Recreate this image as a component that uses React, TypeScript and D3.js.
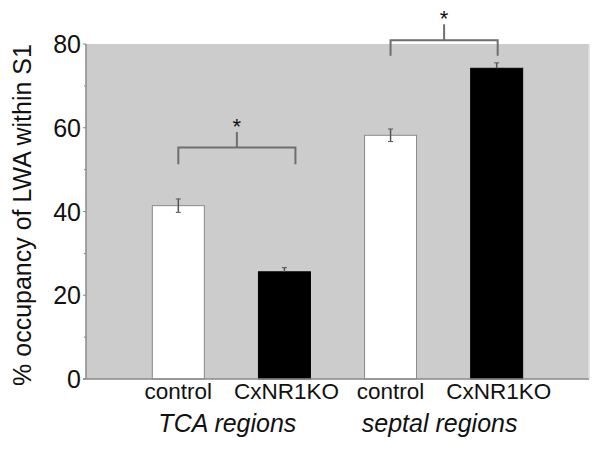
import React from "react";
import * as d3 from "d3";

const categories = ["TCA-control", "TCA-CxNR1KO", "septal-control", "septal-CxNR1KO"];
const barLabels = ["control", "CxNR1KO", "control", "CxNR1KO"];
const values = [41.4, 25.6, 58.2, 74.2];
const errors = [1.6, 1.0, 1.5, 1.3];
const fills = ["#ffffff", "#000000", "#ffffff", "#000000"];
const groupLabels = ["TCA regions", "septal regions"];
const yTicks = [0, 20, 40, 60, 80];
const yMinor = [10, 30, 50, 70];
// significance brackets: [left index, right index, bracket level (value units)]
const brackets = [
  { from: 0, to: 1, level: 55.3, legs: 51.3, top: 59.0, rightOffset: 11 },
  { from: 2, to: 3, level: 80.9, legs: 77.2, top: 84.7, rightOffset: 1 },
];

export default function App() {
  const W = 601, H = 451;
  const left = 86, right = 589, top = 44, bottom = 379;
  const y = d3.scaleLinear().domain([0, 80]).range([bottom, top]);
  const x = d3.scalePoint<string>().domain(categories).range([left, right]).padding(0.87);
  const bw = 52;
  const axisColor = "#8a8a8a";
  const bracketColor = "#6e6e6e";
  const font = "Arial, 'Liberation Sans', sans-serif";

  return (
    <svg width={W} height={H} style={{ position: "absolute", left: 0, top: 0, background: "#fff" }}>
      <rect x={left} y={top} width={right - left} height={bottom - top} fill="#cccccc" />
      <line x1={right} x2={right} y1={top} y2={bottom} stroke="#dedede" strokeWidth={1.5} />
      {categories.map((c, i) => {
        const cx = x(c)!;
        const yt = y(values[i]);
        return (
          <g key={c}>
            <rect x={cx - bw / 2} y={yt} width={bw} height={bottom - yt} fill={fills[i]}
              stroke={fills[i] === "#000000" ? "#000" : "#8a8a8a"} strokeWidth={1} />
            <line x1={cx} x2={cx} y1={y(values[i] + errors[i])} y2={fills[i] === "#000000" ? yt : y(values[i] - errors[i])}
              stroke="#555" strokeWidth={1.5} />
            <line x1={cx - 2.5} x2={cx + 2.5} y1={y(values[i] + errors[i])} y2={y(values[i] + errors[i])} stroke="#555" strokeWidth={1} />
            {fills[i] !== "#000000" && (
              <line x1={cx - 2.5} x2={cx + 2.5} y1={y(values[i] - errors[i])} y2={y(values[i] - errors[i])} stroke="#555" strokeWidth={1} />
            )}
            <text x={cx + (i % 2 === 1 ? 2 : 0)} y={399} textAnchor="middle" fontFamily={font} fontSize={22.5} fill="#111">{barLabels[i]}</text>
          </g>
        );
      })}
      {/* axes */}
      <line x1={left} x2={left} y1={top} y2={bottom} stroke={axisColor} strokeWidth={1.5} />
      <line x1={left - 3} x2={right} y1={bottom} y2={bottom} stroke={axisColor} strokeWidth={1.5} />
      {yTicks.map((t) => (
        <g key={t}>
          <line x1={left - 3} x2={left} y1={y(t)} y2={y(t)} stroke={axisColor} strokeWidth={1} />
          <text x={left - 5} y={y(t) + 9} textAnchor="end" fontFamily={font} fontSize={25} fill="#111">{t}</text>
        </g>
      ))}
      {yMinor.map((t) => (
        <line key={t} x1={left - 2} x2={left} y1={y(t)} y2={y(t)} stroke={axisColor} strokeWidth={1} />
      ))}
      <text transform={`translate(31, ${215}) rotate(-90)`} textAnchor="middle" fontFamily={font} fontSize={25} fill="#111">
        % occupancy of LWA within S1
      </text>
      {/* brackets */}
      {brackets.map((b, i) => {
        const x1 = x(categories[b.from])!;
        const x2 = x(categories[b.to])! + b.rightOffset;
        const mid = (x1 + x2) / 2;
        return (
          <g key={i} stroke={bracketColor} strokeWidth={2} fill="none">
            <path d={`M${x1},${y(b.legs)}V${y(b.level)}H${x2}V${y(b.legs)}`} />
            <line x1={mid} x2={mid} y1={y(b.level)} y2={y(b.top)} />
            <text x={mid} y={y(b.top) + 2} textAnchor="middle" fontFamily={font} fontSize={22} fill="#111" stroke="none">*</text>
          </g>
        );
      })}
      {groupLabels.map((g, i) => {
        const cx = (x(categories[i * 2])! + x(categories[i * 2 + 1])!) / 2 - 4;
        return (
          <text key={g} x={cx} y={432} textAnchor="middle" fontFamily={font} fontSize={25} fontStyle="italic" fill="#111">{g}</text>
        );
      })}
    </svg>
  );
}
